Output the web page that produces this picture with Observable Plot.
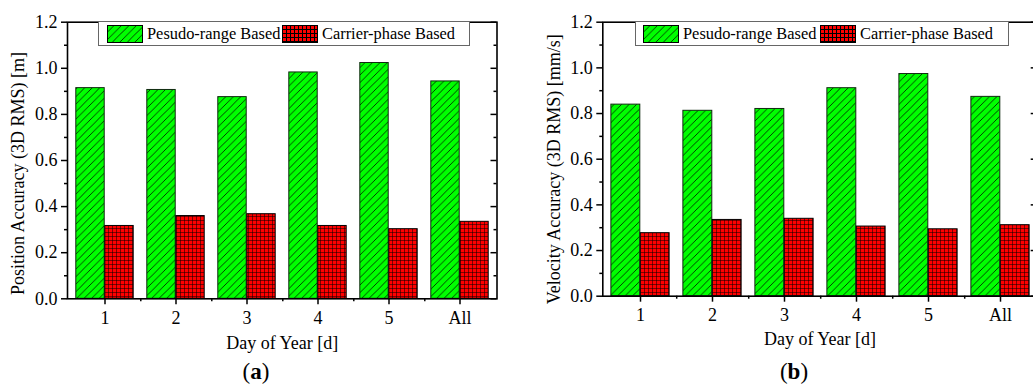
<!DOCTYPE html>
<html>
<head>
<meta charset="utf-8">
<script src="https://cdn.jsdelivr.net/npm/d3@7"></script>
<script src="https://cdn.jsdelivr.net/npm/@observablehq/plot@0.6"></script>
<style>
  body { margin: 0; background: #fff; }
  #page { position: relative; width: 1033px; height: 385px; overflow: hidden; font-family: "Liberation Serif", "Times New Roman", serif; background: #fff; }
  #page svg { max-width: none !important; }
  .panel { position: absolute; top: 0; }
  .legend { position: absolute; top: 21px; height: 25px; box-sizing: border-box; border: 1px solid #666; background: #fff;
            font-size: 16.4px; color: #000; white-space: nowrap; }
  .legend svg { position: absolute; top: 3px; display: block; }
  .legend span { position: absolute; top: 0; line-height: 23px; }
  .caption { position: absolute; top: 358px; width: 100px; height: 27px; line-height: 27px; text-align: center; font-family: "Liberation Serif", serif; font-size: 23px; color: #000; }
</style>
</head>
<body>
<svg width="0" height="0" style="position:absolute">
  <defs>
    <pattern id="hatch" patternUnits="userSpaceOnUse" width="7.5" height="7.5">
      <rect width="7.5" height="7.5" fill="#00ff00"></rect>
      <path d="M-1.875,1.875 L1.875,-1.875 M0,7.5 L7.5,0 M5.625,9.375 L9.375,5.625" stroke="#000" stroke-width="0.75"></path>
    </pattern>
    <!-- bar grid: Plot offsets marks by 0.5px, so lines sit on 0 here -->
    <pattern id="grid" patternUnits="userSpaceOnUse" width="4" height="4">
      <rect x="-1" y="-1" width="6" height="6" fill="#ff0000"></rect>
      <path d="M-1,0 H5 M0,-1 V5" stroke="#000" stroke-width="1"></path>
    </pattern>
    <pattern id="gridL" patternUnits="userSpaceOnUse" width="4" height="4">
      <rect width="4" height="4" fill="#ff0000"></rect>
      <path d="M0,0.5 H4 M0.5,0 V4" stroke="#000" stroke-width="1"></path>
    </pattern>
  </defs>
</svg>
<div id="page"></div>
<script>
// ---- data ----
const days = ["1", "2", "3", "4", "5", "All"];
const seriesNames = ["Pesudo-range Based", "Carrier-phase Based"];
const posPseudo  = [0.914, 0.906, 0.875, 0.982, 1.023, 0.943];
const posCarrier = [0.316, 0.359, 0.367, 0.316, 0.302, 0.334];
const velPseudo  = [0.839, 0.812, 0.820, 0.911, 0.973, 0.873];
const velCarrier = [0.276, 0.334, 0.339, 0.305, 0.293, 0.311];
const yMajor = [0, 0.2, 0.4, 0.6, 0.8, 1.0, 1.2];
const yMinor = [0.1, 0.3, 0.5, 0.7, 0.9, 1.1];

const page = document.getElementById("page");

function makePanel({v1, v2, left, width, ml, mr, mt, mb, ylabel, labelDx, labelDy, xLabelOffset}) {
  const bw = (width - ml - mr) / days.length;
  const outer = bw * 0.095;
  const d1 = days.map((d, i) => ({day: d, value: v1[i]}));
  const d2 = days.map((d, i) => ({day: d, value: v2[i]}));
  const chart = Plot.plot({
    width, height: 385,
    marginLeft: ml, marginRight: mr, marginTop: mt, marginBottom: mb,
    style: {fontFamily: "'Liberation Serif', 'Times New Roman', serif", fontSize: "18px", color: "#000", background: "transparent", overflow: "visible"},
    x: {type: "band", domain: days, padding: 0},
    y: {domain: [0, 1.2]},
    marks: [
      Plot.barY(d1, {x: "day", y: "value", fill: "url(#hatch)", stroke: "#102a10", strokeWidth: 1, insetLeft: outer, insetRight: bw / 2}),
      Plot.barY(d2, {x: "day", y: "value", fill: "url(#grid)", stroke: "#000", strokeWidth: 1, insetLeft: bw / 2, insetRight: outer}),
      Plot.frame({stroke: "#000", strokeWidth: 1.6}),
      Plot.axisY(yMajor, {tickSize: 6, tickPadding: 4, strokeWidth: 1.5, tickFormat: d3.format(".1f"), label: null}),
      Plot.axisY(yMinor, {tickSize: 3, strokeWidth: 1.5, fill: "none"}),
      Plot.axisY(yMajor, {anchor: "left", frameAnchor: "right", tickSize: 6, strokeWidth: 1.5, fill: "none"}),
      Plot.axisY(yMinor, {anchor: "left", frameAnchor: "right", tickSize: 3, strokeWidth: 1.5, fill: "none"}),
      Plot.text([ylabel], {text: d => d, frameAnchor: "left", textAnchor: "middle", rotate: -90, lineAnchor: "top", dx: labelDx, dy: labelDy, fontSize: 18}),
      Plot.axisX({tickSize: 6, tickPadding: 6, strokeWidth: 1.5, label: "Day of Year [d]", labelAnchor: "center", labelArrow: "none", labelOffset: xLabelOffset}),
      Plot.axisX(days.slice(0, days.length - 1), {tickSize: 3, strokeWidth: 1.5, fill: "none", dx: bw / 2})
    ]
  });
  const div = document.createElement("div");
  div.className = "panel";
  div.style.left = left + "px";
  div.appendChild(chart);
  page.appendChild(div);
}

function makeLegend(left, width, swatchX) {
  const lg = document.createElement("div");
  lg.className = "legend";
  lg.style.left = left + "px";
  lg.style.width = width + "px";
  const fills = ["url(#hatch)", "url(#gridL)"];
  seriesNames.forEach((name, i) => {
    const sw = document.createElementNS("http://www.w3.org/2000/svg", "svg");
    sw.setAttribute("width", 36); sw.setAttribute("height", 18);
    sw.style.left = swatchX[i] + "px";
    const r = document.createElementNS("http://www.w3.org/2000/svg", "rect");
    r.setAttribute("x", 0.5); r.setAttribute("y", 0.5); r.setAttribute("width", 35); r.setAttribute("height", 17);
    r.setAttribute("fill", fills[i]); r.setAttribute("stroke", "#000"); r.setAttribute("stroke-width", 1);
    sw.appendChild(r);
    const t = document.createElement("span");
    t.style.left = (swatchX[i] + 40) + "px";
    t.textContent = name;
    lg.appendChild(sw); lg.appendChild(t);
  });
  page.appendChild(lg);
}

function makeCaption(center, letter) {
  const c = document.createElement("div");
  c.className = "caption";
  c.style.left = (center - 50) + "px";
  c.append("(");
  const b = document.createElement("b"); b.textContent = letter; c.appendChild(b);
  c.append(")");
  page.appendChild(c);
}

makePanel({v1: posPseudo, v2: posCarrier, left: 0, width: 516, ml: 67, mr: 19.5, mt: 21.7, mb: 86.7,
  ylabel: "Position Accuracy (3D RMS) [m]", labelDx: -56, labelDy: 13, xLabelOffset: 50});
makePanel({v1: velPseudo, v2: velCarrier, left: 516, width: 530, ml: 86.3, mr: 9.3, mt: 21.7, mb: 89.3,
  ylabel: "Velocity Accuracy (3D RMS) [mm/s]", labelDx: -56, labelDy: 10, xLabelOffset: 49});
makeLegend(98, 372, [8, 183]);
makeLegend(635, 374, [7, 184]);
makeCaption(256, "a");
makeCaption(794, "b");
</script>
</body>
</html>
